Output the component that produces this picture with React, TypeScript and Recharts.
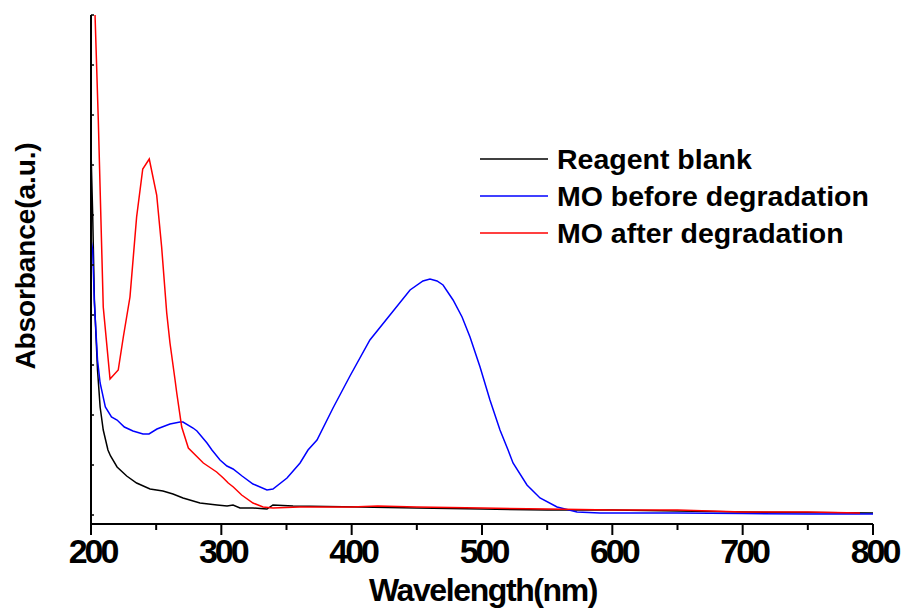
import React from 'react';
import { LineChart, Line, XAxis, YAxis, Label } from 'recharts';

// wavelength (nm) / absorbance pairs
const blankNm = [200, 201.3, 202.6, 205, 207, 209.4, 213, 215, 220, 227.4, 235, 245.3, 255.2, 262.9, 270.6, 283.6, 296.7, 304.4, 309, 314.3, 324.3, 335, 339.6, 355, 406, 450, 500, 550, 600, 650, 700, 750, 800];
const blankAbs = [0.73, 0.6, 0.43, 0.29, 0.216, 0.17, 0.13, 0.118, 0.096, 0.078, 0.064, 0.052, 0.048, 0.042, 0.034, 0.024, 0.02, 0.018, 0.02, 0.014, 0.014, 0.012, 0.02, 0.018, 0.016, 0.014, 0.012, 0.01, 0.01, 0.008, 0.006, 0.005, 0.004];

const beforeNm = [200, 201.3, 202.6, 205, 207, 211, 215.7, 220, 225.6, 232.2, 239.9, 244.5, 250.6, 260.6, 268.3, 270.6, 278.3, 281.3, 289, 292.8, 299, 304.3, 309, 315.9, 324.3, 335, 339.6, 350.4, 360.4, 366.5, 373.4, 385.7, 398.7, 414, 429.4, 444.8, 454.7, 460.1, 465.5, 470.1, 477.8, 484.7, 490.8, 498.5, 506.1, 513.8, 520, 523.8, 534.5, 544.5, 557.6, 572.9, 590.5, 650, 700, 750, 800];
const beforeAbs = [0.55, 0.53, 0.424, 0.31, 0.264, 0.216, 0.196, 0.19, 0.176, 0.168, 0.162, 0.162, 0.172, 0.182, 0.186, 0.186, 0.174, 0.168, 0.144, 0.13, 0.11, 0.098, 0.092, 0.078, 0.062, 0.05, 0.052, 0.074, 0.104, 0.13, 0.15, 0.214, 0.278, 0.35, 0.4, 0.45, 0.468, 0.472, 0.468, 0.46, 0.43, 0.396, 0.356, 0.296, 0.23, 0.17, 0.13, 0.104, 0.06, 0.034, 0.016, 0.006, 0.004, 0.004, 0.003, 0.002, 0.002];

const afterNm = [200, 203.1, 205.6, 209.4, 214.6, 220.9, 224.8, 229.9, 235, 239.7, 244.7, 250.4, 254.2, 258.1, 260.6, 264.5, 265.8, 269.6, 274.7, 286.2, 296.4, 301.5, 305.3, 309.2, 315.6, 324.3, 332, 339.6, 360, 400, 420, 450, 500, 550, 600, 650, 700, 750, 790];
const afterAbs = [1.16, 1.0, 0.79, 0.416, 0.272, 0.29, 0.356, 0.436, 0.596, 0.692, 0.712, 0.64, 0.536, 0.404, 0.344, 0.27, 0.244, 0.176, 0.134, 0.104, 0.086, 0.074, 0.064, 0.056, 0.04, 0.024, 0.016, 0.014, 0.016, 0.016, 0.018, 0.016, 0.014, 0.012, 0.01, 0.01, 0.006, 0.006, 0.004];

const xTicks = [200, 250, 300, 350, 400, 450, 500, 550, 600, 650, 700, 750, 800];
const yTicks = [0, 0.1, 0.2, 0.3, 0.4, 0.5, 0.6, 0.7, 0.8, 0.9, 1.0];

const seriesNames = ['Reagent blank', 'MO before degradation', 'MO after degradation'];
const seriesColors = ['#000000', '#0000ff', '#ff0000'];

const toPoints = (nm: number[], abs: number[]) => nm.map((w, i) => ({ nm: w, abs: abs[i] }));
const blankData = toPoints(blankNm, blankAbs);
const beforeData = toPoints(beforeNm, beforeAbs);
const afterData = toPoints(afterNm, afterAbs);

const FONT = '"Liberation Sans", Arial, sans-serif';

const XTick = (props: any) => {
  const { x, y, payload } = props;
  const major = payload.value % 100 === 0;
  return (
    <g>
      <line x1={x} x2={x} y1={y} y2={y + (major ? 11 : 6)} stroke="#000" strokeWidth={2} />
      {major && (
        <text x={x + 1.5} y={y + 39} textAnchor="middle" fontFamily={FONT} fontWeight="bold" fontSize={34} letterSpacing={-3} fill="#000">
          {payload.value}
        </text>
      )}
    </g>
  );
};

const YTick = (props: any) => {
  const { x, y } = props;
  return <line x1={x} x2={x + 3} y1={y} y2={y} stroke="#000" strokeWidth={1.5} />;
};

const App: React.FC = () => {
  return (
    <div style={{ position: 'absolute', left: 0, top: 0, width: 902, height: 609, background: '#fff' }}>
      <LineChart width={902} height={609} margin={{ top: 15, right: 29, bottom: 84, left: 90 }}>
        <XAxis
          type="number"
          dataKey="nm"
          domain={[200, 800]}
          ticks={xTicks}
          interval={0}
          height={1}
          tickSize={0}
          tickMargin={0}
          tickLine={false}
          tick={<XTick />}
          axisLine={{ stroke: '#000', strokeWidth: 2 }}
          allowDuplicatedCategory={false}
        >
          <Label
            content={() => (
              <text x={483} y={601} textAnchor="middle" fontFamily={FONT} fontWeight="bold" fontSize={32} letterSpacing={-1.4} fill="#000">
                Wavelength(nm)
              </text>
            )}
          />
        </XAxis>
        <YAxis
          type="number"
          domain={[-0.018, 1.0]}
          allowDataOverflow
          ticks={yTicks}
          interval={0}
          width={1}
          tickSize={0}
          tickMargin={0}
          tickLine={false}
          tick={<YTick />}
          axisLine={{ stroke: '#000', strokeWidth: 2 }}
        >
          <Label
            content={() => (
              <text x={35} y={256} transform="rotate(-90, 35, 256)" textAnchor="middle" fontFamily={FONT} fontWeight="bold" fontSize={28} letterSpacing={-0.1} fill="#000">
                Absorbance(a.u.)
              </text>
            )}
          />
        </YAxis>
        <Line data={blankData} dataKey="abs" name={seriesNames[0]} type="linear" stroke={seriesColors[0]} strokeWidth={1.5} dot={false} isAnimationActive={false} />
        <Line data={beforeData} dataKey="abs" name={seriesNames[1]} type="linear" stroke={seriesColors[1]} strokeWidth={1.5} dot={false} isAnimationActive={false} />
        <Line data={afterData} dataKey="abs" name={seriesNames[2]} type="linear" stroke={seriesColors[2]} strokeWidth={1.5} dot={false} isAnimationActive={false} />
      </LineChart>
      <svg width={902} height={609} style={{ position: 'absolute', left: 0, top: 0, pointerEvents: 'none' }}>
        {seriesNames.map((name, i) => (
          <g key={name}>
            <line x1={480} x2={548} y1={159 + i * 37} y2={159 + i * 37} stroke={seriesColors[i]} strokeWidth={1.5} />
            <text x={557} y={169 + i * 37} fontFamily={FONT} fontWeight="bold" fontSize={28.5} letterSpacing={0} fill="#000">
              {name}
            </text>
          </g>
        ))}
      </svg>
    </div>
  );
};

export default App;
